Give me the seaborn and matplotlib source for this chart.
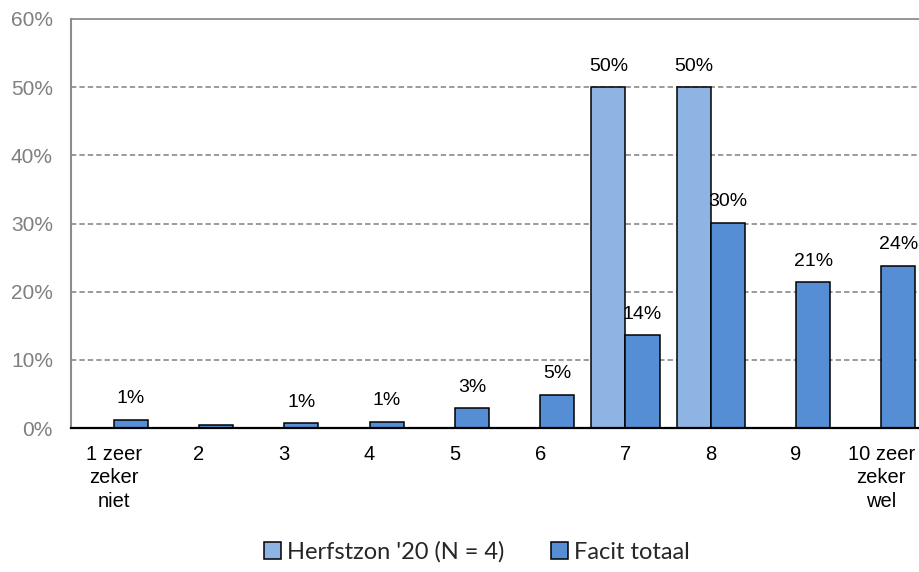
import matplotlib
matplotlib.use("Agg")
import matplotlib.pyplot as plt
from matplotlib.patches import Patch
from matplotlib.ticker import FuncFormatter
import seaborn as sns
import pandas as pd

categories = ["1 zeer\nzeker\nniet", "2", "3", "4", "5", "6", "7", "8", "9", "10 zeer\nzeker\nwel"]
herfstzon = [0, 0, 0, 0, 0, 0, 50, 50, 0, 0]
facit = [1.2, 0.45, 0.7, 0.95, 2.9, 4.9, 13.6, 30.1, 21.4, 23.8]
series_names = ["Herfstzon '20 (N = 4)", "Facit totaal"]
colors = ["#8EB4E3", "#558ED5"]

df = pd.DataFrame({
    "categorie": categories * 2,
    "reeks": [series_names[0]] * len(categories) + [series_names[1]] * len(categories),
    "waarde": herfstzon + facit,
})

sns.set_theme(style="white")
plt.rcParams["font.family"] = ["Liberation Sans", "DejaVu Sans"]

fig = plt.figure(figsize=(9.19, 5.72), dpi=100)
ax = fig.add_axes([71 / 919, 1 - 428 / 572, 853 / 919, 409 / 572])

sns.barplot(data=df, x="categorie", y="waarde", hue="reeks", hue_order=series_names,
            palette=colors, order=categories, width=0.8, edgecolor="black",
            linewidth=1.1, saturation=1, legend=False, ax=ax)

ax.set_xlim(-0.5, 9.5)
ax.set_ylim(0, 60)
ax.set_yticks(range(0, 61, 10))
ax.yaxis.set_major_formatter(FuncFormatter(lambda v, _: f"{v:.0f}%"))
for y in range(10, 60, 10):
    ax.axhline(y, color="#808080", linestyle=(0, (3.5, 2)), linewidth=1.1, zorder=0)

ax.set_xlabel("")
ax.set_ylabel("")
ax.tick_params(axis="y", length=0, pad=13, labelsize=15, labelcolor="#7f7f7f")
ax.tick_params(axis="x", length=0, pad=12, labelsize=14.5, labelcolor="black")
for lbl in ax.get_xticklabels():
    lbl.set_linespacing(1.3)
    lbl.set_verticalalignment("top")

ax.spines["right"].set_visible(False)
ax.spines["top"].set_color("#8c8c8c")
ax.spines["top"].set_linewidth(1.3)
ax.spines["left"].set_color("#8c8c8c")
ax.spines["left"].set_linewidth(1.5)
ax.spines["bottom"].set_color("black")
ax.spines["bottom"].set_linewidth(1.6)
ax.spines["bottom"].set_zorder(5)

for container, values in zip(ax.containers, [herfstzon, facit]):
    labels = [f"{round(v)}%" if round(v) >= 1 else "" for v in values]
    ax.bar_label(container, labels=labels, padding=9, fontsize=14, color="black")

handles = [Patch(facecolor=c, edgecolor="black", linewidth=1.1) for c in colors]
fig.legend(handles, series_names, loc="center", bbox_to_anchor=(477 / 919, 0.035),
           ncol=2, frameon=False, handlelength=0.7, handleheight=0.7, handletextpad=0.25,
           columnspacing=2.0, prop={"family": "Lato", "size": 17})

fig.savefig("out.png", dpi=100)
